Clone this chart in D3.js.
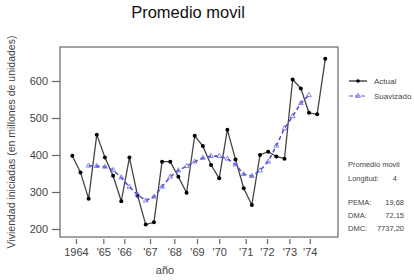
<!DOCTYPE html>
<html><head><meta charset="utf-8">
<script src="https://cdn.jsdelivr.net/npm/d3@7"></script>
<style>body{margin:0;background:#fff}svg{display:block}</style>
</head><body><svg id="c" width="414" height="280"></svg>
<script>
const actual = [398,353,282,455,393,344,275,393,290,212,218,382,382,341,298,452,424,373,337,468,388,310,265,400,409,396,390,604,580,514,510,660];
const smoothStart = 2;
const smoothed = [371,370,368,359,339,314,292,277,287,314,341,358,370,382,392,397,397,390,374,348,343,358,382,425,472,505,540,562];
const xTickPos = [0.45,3.8,6.37,9.52,12.5,15.28,18.0,21.25,23.86,26.6,29.1];
const xTickLabels = ["1964","'65","'66","'67","'68","'69","'70","'71","'72","'73","'74"];
const yTicks = [200,300,400,500,600];
const legendLabels = ["Actual","Suavizado"];
const statsLines = [["Promedio movil",""],["Longitud:","4"],["PEMA:","19,68"],["DMA:","72,15"],["DMC:","7737,20"]];

const svg = d3.select("#c");
const font = "Liberation Sans, Arial, sans-serif";
const x = d3.scaleLinear().domain([0,31]).range([72.3,325.3]);
const y = d3.scaleLinear().domain([200,600]).range([229,81]);
const frame = {l:60,t:47,r:338,b:237};
const txt = "#444";

svg.append("text").attr("x",188).attr("y",18).attr("text-anchor","middle")
  .attr("font-family",font).attr("font-size",16.5).attr("fill","#111").text("Promedio movil");

svg.append("rect").attr("x",frame.l).attr("y",frame.t).attr("width",frame.r-frame.l).attr("height",frame.b-frame.t)
  .attr("fill","none").attr("stroke","#666").attr("stroke-width",1.2);

// y axis
const ya = svg.append("g").attr("transform",`translate(${frame.l},0)`)
  .call(d3.axisLeft(y).tickValues(yTicks).tickSize(8).tickPadding(4));
ya.select(".domain").remove();
ya.selectAll("line").attr("stroke","#666").attr("stroke-width",1.2);
ya.selectAll("text").attr("font-family",font).attr("font-size",11).attr("fill",txt);

// x axis
const xa = svg.append("g").attr("transform",`translate(0,${frame.b+2})`)
  .call(d3.axisBottom(x).tickValues(xTickPos).tickFormat((d,i)=>xTickLabels[i]).tickSize(5).tickPadding(4));
xa.select(".domain").remove();
xa.selectAll("line").attr("stroke","#666").attr("stroke-width",1.2);
xa.selectAll("text").attr("font-family",font).attr("font-size",11).attr("fill",txt);

svg.append("text").attr("x",165).attr("y",274).attr("text-anchor","middle")
  .attr("font-family",font).attr("font-size",11).attr("fill",txt).text("año");
svg.append("text").attr("transform","translate(15,142) rotate(-90)").attr("text-anchor","middle")
  .attr("font-family",font).attr("font-size",10.5).attr("fill",txt).text("Viviendad iniciadas (en millones de unidades)");

// series
const line = d3.line().x(d=>x(d[0])).y(d=>y(d[1]));
const aPts = actual.map((v,i)=>[i,v]);
const sPts = smoothed.map((v,i)=>[i+smoothStart,v]);
svg.append("path").attr("d",line(aPts)).attr("fill","none").attr("stroke","#444").attr("stroke-width",1.3);
svg.selectAll(".dot").data(aPts).join("circle").attr("cx",d=>x(d[0])).attr("cy",d=>y(d[1])).attr("r",2).attr("fill","#000");
svg.append("path").attr("d",line(sPts)).attr("fill","none").attr("stroke","#5050d8").attr("stroke-width",1.6).attr("stroke-dasharray","4,3");
const tri = d3.symbol().type(d3.symbolTriangle).size(10);
svg.selectAll(".tri").data(sPts).join("path").attr("d",tri).attr("transform",d=>`translate(${x(d[0])},${y(d[1])})`)
  .attr("fill","none").attr("stroke","#6a6ae0").attr("stroke-width",0.8);

// legend
const lg = svg.append("g");
[0,1].forEach(i=>{
  const ly = 81 + i*15;
  lg.append("line").attr("x1",349).attr("x2",367).attr("y1",ly).attr("y2",ly)
    .attr("stroke", i===0?"#222":"#5050d8").attr("stroke-width",1.2).attr("stroke-dasharray", i===0?null:"4,2");
  if(i===0) lg.append("circle").attr("cx",358).attr("cy",ly).attr("r",1.8).attr("fill","#000");
  else lg.append("path").attr("d",tri).attr("transform",`translate(358,${ly})`).attr("fill","none").attr("stroke","#6a6ae0").attr("stroke-width",0.8);
  lg.append("text").attr("x",374).attr("y",ly+3).attr("font-family",font).attr("font-size",8).attr("fill",txt).text(legendLabels[i]);
});

// stats
const sy = [167,181,205,218,231];
statsLines.forEach((s,i)=>{
  svg.append("text").attr("x",348).attr("y",sy[i]).attr("font-family",font).attr("font-size",7.5).attr("fill",txt).text(s[0]);
  if(s[1]) svg.append("text").attr("x",i===1?397:404).attr("y",sy[i]).attr("text-anchor","end").attr("font-family",font).attr("font-size",7.5).attr("fill",txt).text(s[1]);
});
</script></body></html>
